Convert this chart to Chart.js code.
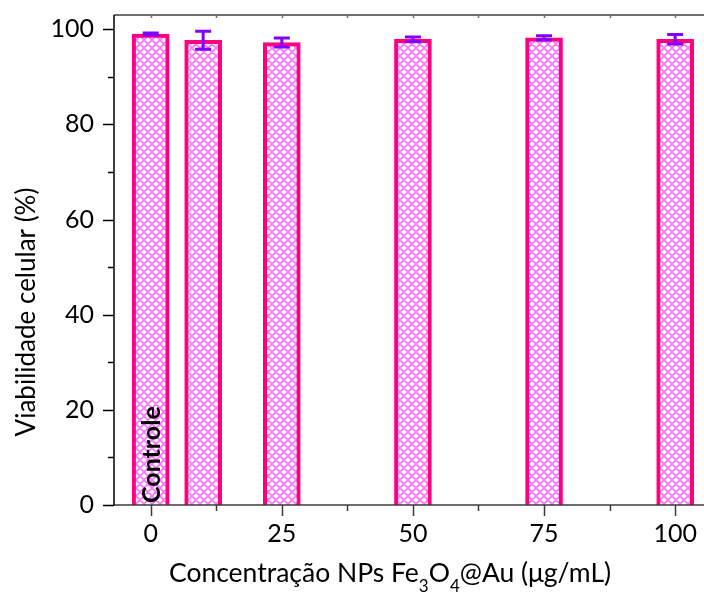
<!DOCTYPE html>
<html>
<head>
<meta charset="utf-8">
<script src="https://cdn.jsdelivr.net/npm/chart.js@4.4.1/dist/chart.umd.min.js"></script>
<style>
  html, body { margin: 0; padding: 0; background: #fff; overflow: hidden; }
  canvas { display: block; }
</style>
</head>
<body>
<canvas id="cellChart" width="704" height="598"></canvas>
<script>
// concentração (µg/mL) e viabilidade celular (%)
const concentrations = [0, 10, 25, 50, 75, 100];
const viability = [99.0, 97.7, 97.2, 97.9, 98.2, 97.9];
const viabilityErr = [0.2, 1.9, 0.95, 0.5, 0.45, 1.0];

// ticks
const xTickValues = [0, 25, 50, 75, 100];
const xMinorValues = [12.5, 37.5, 62.5, 87.5];
const yTickValues = [0, 20, 40, 60, 80, 100];
const yMinorValues = [10, 30, 50, 70, 90];

const controlLabel = 'Controle';
const yTitle = 'Viabilidade celular (%)';
// título do eixo x em partes (texto normal / subscrito)
const xTitleParts = [
    { text: 'Concentração NPs Fe', sub: false },
    { text: '3', sub: true },
    { text: 'O', sub: false },
    { text: '4', sub: true },
    { text: '@Au (μg/mL)', sub: false }
];

const FONT = 'Lato, "Open Sans", sans-serif';
const PINK = '#ff0080';
const PURPLE = '#8000ff';

// padrão xadrez diagonal das barras
function makeHatch() {
    const n = 8;
    const c = document.createElement('canvas');
    c.width = n; c.height = n;
    const g = c.getContext('2d');
    g.fillStyle = '#ffffff';
    g.fillRect(0, 0, n, n);
    g.strokeStyle = '#ff70ff';
    g.lineWidth = 1.6;
    g.beginPath();
    [-n, 0, n].forEach(function(k) {
        g.moveTo(k, 0); g.lineTo(k + n, n);
        g.moveTo(k + n, 0); g.lineTo(k, n);
    });
    g.stroke();
    return g.createPattern(c, 'repeat');
}

const framePlugin = {
    id: 'frame',
    afterDatasetsDraw: function(chart) {
        const ctx = chart.ctx;
        const xs = chart.scales.x, ys = chart.scales.y;
        const area = chart.chartArea;

        // barras de erro
        ctx.save();
        ctx.strokeStyle = PURPLE;
        ctx.lineWidth = 3;
        concentrations.forEach(function(c, i) {
            const px = xs.getPixelForValue(c);
            const yt = ys.getPixelForValue(viability[i] + viabilityErr[i]);
            const yb = ys.getPixelForValue(viability[i] - viabilityErr[i]);
            ctx.beginPath();
            ctx.moveTo(px, yt); ctx.lineTo(px, yb);
            ctx.moveTo(px - 8, yt); ctx.lineTo(px + 8, yt);
            ctx.moveTo(px - 8, yb); ctx.lineTo(px + 8, yb);
            ctx.stroke();
        });
        ctx.restore();

        // texto "Controle" dentro da primeira barra
        ctx.save();
        ctx.fillStyle = '#000';
        ctx.font = 'bold 25px ' + FONT;
        ctx.translate(xs.getPixelForValue(concentrations[0]) + 9, area.bottom - 2);
        ctx.rotate(-Math.PI / 2);
        ctx.textAlign = 'left';
        ctx.textBaseline = 'alphabetic';
        ctx.fillText(controlLabel, 0, 0);
        ctx.restore();

        // eixos e moldura
        ctx.save();
        // topo
        ctx.strokeStyle = '#6e6e6e';
        ctx.lineWidth = 2;
        ctx.beginPath();
        ctx.moveTo(area.left, area.top); ctx.lineTo(area.right, area.top);
        ctx.stroke();
        ctx.lineWidth = 1.5;
        ctx.beginPath();
        xTickValues.concat(xMinorValues).forEach(function(v) {
            const px = Math.round(xs.getPixelForValue(v)) + 0.5;
            ctx.moveTo(px, area.top); ctx.lineTo(px, area.top + 3);
        });
        ctx.stroke();

        // eixo x
        ctx.strokeStyle = '#3c3c3c';
        ctx.lineWidth = 1.5;
        ctx.beginPath();
        ctx.moveTo(area.left, area.bottom); ctx.lineTo(area.right, area.bottom);
        xTickValues.forEach(function(v) {
            const px = Math.round(xs.getPixelForValue(v)) + 0.5;
            ctx.moveTo(px, area.bottom); ctx.lineTo(px, area.bottom + 11);
        });
        xMinorValues.forEach(function(v) {
            const px = Math.round(xs.getPixelForValue(v)) + 0.5;
            ctx.moveTo(px, area.bottom); ctx.lineTo(px, area.bottom + 6);
        });
        ctx.stroke();

        // eixo y
        ctx.strokeStyle = '#000';
        ctx.lineWidth = 1.5;
        ctx.beginPath();
        ctx.moveTo(area.left, area.top); ctx.lineTo(area.left, area.bottom);
        yTickValues.forEach(function(v) {
            const py = Math.round(ys.getPixelForValue(v)) + 0.5;
            ctx.moveTo(area.left, py); ctx.lineTo(area.left - 11, py);
        });
        yMinorValues.forEach(function(v) {
            const py = Math.round(ys.getPixelForValue(v)) + 0.5;
            ctx.moveTo(area.left, py); ctx.lineTo(area.left - 6, py);
        });
        ctx.stroke();
        ctx.restore();

        // título do eixo y
        ctx.save();
        ctx.fillStyle = '#000';
        ctx.font = '26px ' + FONT;
        ctx.translate(35, (area.top + area.bottom) / 2 + 52);
        ctx.rotate(-Math.PI / 2);
        ctx.textAlign = 'center';
        ctx.textBaseline = 'alphabetic';
        ctx.fillText(yTitle, 0, 0);
        ctx.restore();

        // título do eixo x com subscritos
        ctx.save();
        ctx.fillStyle = '#000';
        ctx.textBaseline = 'alphabetic';
        ctx.textAlign = 'left';
        let total = 0;
        xTitleParts.forEach(function(p) {
            ctx.font = (p.sub ? '17px ' : '26.5px ') + FONT;
            p.w = ctx.measureText(p.text).width;
            total += p.w;
        });
        let tx = 390 - total / 2;
        xTitleParts.forEach(function(p) {
            ctx.font = (p.sub ? '17px ' : '26.5px ') + FONT;
            ctx.fillText(p.text, tx, p.sub ? 592 : 582);
            tx += p.w;
        });
        ctx.restore();
    }
};

var CellChart = {
    Init: function() {
        const tickFont = { family: FONT, size: 25 };
        new Chart(document.getElementById('cellChart').getContext('2d'), {
            type: 'bar',
            data: {
                datasets: [{
                    data: concentrations.map(function(c, i) { return { x: c, y: viability[i] }; }),
                    backgroundColor: makeHatch(),
                    borderColor: PINK,
                    borderWidth: 4,
                    borderSkipped: 'start',
                    barThickness: 37
                }]
            },
            options: {
                responsive: false,
                animation: false,
                devicePixelRatio: 1,
                layout: { padding: { top: 15, left: 0, right: 0, bottom: 0 } },
                plugins: { legend: { display: false }, tooltip: { enabled: false } },
                scales: {
                    x: {
                        type: 'linear',
                        offset: false,
                        min: -7,
                        max: 105.5,
                        afterBuildTicks: function(s) { s.ticks = xTickValues.map(function(v) { return { value: v }; }); },
                        afterFit: function(s) { s.height = 93; s.paddingLeft = 0; s.paddingRight = 0; },
                        grid: { display: false, drawTicks: false },
                        border: { display: false },
                        ticks: { font: tickFont, color: '#000', padding: 14, maxRotation: 0, autoSkip: false }
                    },
                    y: {
                        min: 0,
                        max: 103,
                        afterBuildTicks: function(s) { s.ticks = yTickValues.map(function(v) { return { value: v }; }); },
                        afterFit: function(s) { s.width = 114; s.paddingTop = 0; s.paddingBottom = 0; },
                        grid: { display: false, drawTicks: false },
                        border: { display: false },
                        ticks: { font: tickFont, color: '#000', padding: 20 }
                    }
                }
            },
            plugins: [framePlugin]
        });
    }
};
CellChart.Init();
</script>
</body>
</html>
